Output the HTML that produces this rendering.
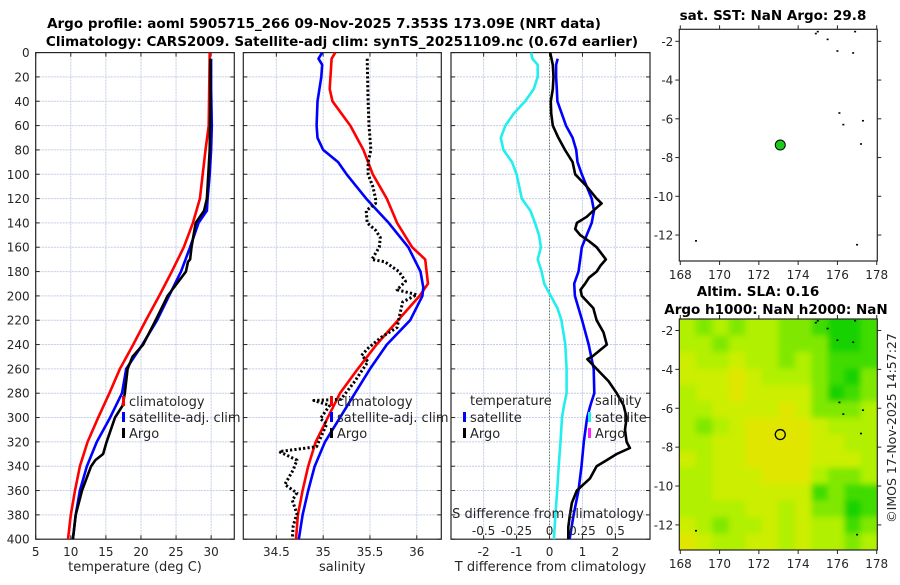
<!DOCTYPE html>
<html><head><meta charset="utf-8"><style>
html,body{margin:0;padding:0;background:#fff;}
svg text{font-family:"DejaVu Sans","Liberation Sans",sans-serif;fill:#262626;}
.t{font-weight:bold;font-size:13.5px;fill:#000;}
.tk{font-size:12px;}
</style></head><body>
<svg id="fig" width="900" height="580" viewBox="0 0 900 580" xmlns="http://www.w3.org/2000/svg">
<rect width="900" height="580" fill="#fff"/>
<text class="t" x="324" y="28" text-anchor="middle">Argo profile: aoml 5905715_266 09-Nov-2025 7.353S 173.09E (NRT data)</text>
<text class="t" x="342" y="46" text-anchor="middle">Climatology: CARS2009. Satellite-adj clim: synTS_20251109.nc (0.67d earlier)</text>
<g id="p1"></g>
<g id="p2"></g>
<g id="p3"></g>
<g id="m1"></g>
<g id="m2"></g>
<text class="t" x="773" y="20" text-anchor="middle">sat. SST: NaN Argo: 29.8</text>
<text class="t" x="758" y="296" text-anchor="middle">Altim. SLA: 0.16</text>
<text class="t" x="776" y="314" text-anchor="middle">Argo h1000: NaN h2000: NaN</text>
<text x="0" y="0" font-size="12.5" text-anchor="middle" transform="translate(896,428) rotate(-90)">©IMOS 17-Nov-2025 14:57:27</text>
</svg>
<script>
// ---- temperature profile data ----
const tClimDepth=[0,60,80,100,120,140,160,180,200,220,240,260,280,300,320,340,360,380,400];
const tClim=[29.8,29.65,29.2,28.8,28.4,27.4,26.1,24.4,22.6,20.7,18.9,17.0,15.5,13.9,12.4,11.3,10.6,10.0,9.6];
const tSatDepth=[5,30,60,80,100,120,130,140,160,180,200,220,240,260,280,300,320,340,360,380,400];
const tSat=[30.0,30.0,30.1,30.0,29.8,29.5,29.4,28.2,27.0,25.7,24.0,22.3,20.2,17.9,17.3,15.6,13.7,12.3,11.3,10.7,10.3];
const tArgoDepth=[5,40,80,100,120,130,140,160,170,172,180,200,220,240,250,260,280,290,300,320,330,335,340,360,380,400];
const tArgo=[29.9,29.9,29.8,29.6,29.4,29.0,27.8,27.2,27.0,26.7,26.4,23.8,22.1,20.3,18.8,18.1,17.7,17.4,16.3,15.1,14.6,13.5,12.9,11.6,10.7,10.3];
// ---- salinity profile data ----
const sClimDepth=[0,5,30,40,60,80,100,120,140,160,170,190,200,220,240,260,280,300,320,340,360,380,400];
const sClim=[35.13,35.09,35.07,35.1,35.29,35.43,35.53,35.68,35.79,35.95,36.09,36.12,36.03,35.8,35.57,35.37,35.18,35.05,34.92,34.84,34.78,34.73,34.71];
const sSatDepth=[0,5,10,20,40,60,70,80,90,100,120,140,160,180,193,200,220,240,260,280,300,320,340,360,380,400];
const sSat=[34.99,34.95,34.99,34.98,34.94,34.93,34.94,35.0,35.16,35.25,35.46,35.7,35.91,36.04,36.07,36.06,35.93,35.68,35.5,35.34,35.18,35.02,34.91,34.84,34.78,34.74];
const sArgoDepth=[5,40,60,80,90,100,110,120,124,130,140,146,152,160,170,172,180,188,195,199,205,215,226,234,243,249,254,264,270,285,286,290,301,305,324,328,335,343,355,362,368,379,389,400];
const sArgo=[35.47,35.48,35.49,35.51,35.48,35.48,35.53,35.56,35.56,35.46,35.47,35.56,35.61,35.6,35.52,35.66,35.81,35.88,35.79,36.0,35.85,35.82,35.79,35.62,35.48,35.41,35.48,35.39,35.34,35.19,34.9,35.07,34.97,35.04,34.93,34.53,34.72,34.68,34.59,34.72,34.67,34.72,34.68,34.67];
// ---- difference data ----
const dTSatDepth=[5,10,20,30,40,50,60,70,80,90,100,110,120,130,140,150,160,170,180,190,200,220,240,260,280,290,300,320,340,360,380,400];
const dTSat=[0.25,0.2,0.2,0.22,0.24,0.37,0.5,0.7,0.81,0.85,0.98,1.13,1.28,1.35,1.28,1.13,0.98,0.93,0.88,0.75,0.77,0.99,1.19,1.34,1.36,1.24,1.14,1.04,0.97,0.88,0.73,0.61];
const dTArgoDepth=[0,10,20,30,40,50,60,70,80,90,100,110,120,124,130,135,140,145,150,155,160,170,175,180,185,190,195,200,210,220,230,240,250,252,260,270,280,290,300,310,320,325,330,335,340,350,360,370,380,390,400];
const dTArgo=[0.02,0.1,0.12,0.1,0.04,0.05,0.1,0.27,0.47,0.7,0.78,1.13,1.43,1.58,1.33,1.13,0.83,0.78,0.93,1.2,1.43,1.71,1.55,1.43,1.2,1.08,0.94,0.98,1.33,1.43,1.64,1.74,1.29,1.15,1.43,1.79,2.04,2.25,2.34,2.29,2.34,2.44,2.04,1.74,1.43,1.23,0.83,0.68,0.62,0.57,0.57];
const dSSatDepth=[0,5,10,20,30,40,50,60,70,80,90,100,110,120,130,140,150,160,170,180,190,200,210,220,240,260,280,290,300,320,340,360,380,400];
const dSSat=[-0.14,-0.13,-0.09,-0.09,-0.12,-0.185,-0.27,-0.335,-0.37,-0.35,-0.285,-0.25,-0.23,-0.21,-0.145,-0.11,-0.08,-0.065,-0.09,-0.06,-0.04,0.01,0.06,0.09,0.12,0.13,0.13,0.11,0.095,0.083,0.07,0.058,0.045,0.033];
// ---- tick labels ----
const depthTicks=[0,20,40,60,80,100,120,140,160,180,200,220,240,260,280,300,320,340,360,380,400];
const tTicks=[5,10,15,20,25,30];
const sTicks=[34.5,35,35.5,36];
const dTTicks=[-2,-1,0,1,2];
const dSTicks=[-0.5,-0.25,0,0.25,0.5];
const lonTicks=[168,170,172,174,176,178];
const latTicks=[-2,-4,-6,-8,-10,-12];
const argoLon=173.09, argoLat=-7.353;
// SLA grid (index 0=yellow ... 5=green), rows north->south
const slaGrid=[
[2,3,2,3,2,2,3,3,4,5,5,4],
[2,2,3,2,2,2,3,3,3,5,5,4],
[1,2,2,1,2,2,3,2,3,4,4,4],
[1,1,1,0,1,2,2,2,3,4,5,3],
[2,1,1,0,1,1,1,1,3,5,4,3],
[2,2,1,1,1,1,0,1,3,3,3,2],
[2,3,2,1,0,0,0,0,1,2,2,2],
[2,2,1,1,0,0,0,0,1,1,2,2],
[1,2,1,1,0,0,0,0,1,1,1,2],
[2,2,1,1,1,0,0,0,2,3,3,2],
[2,2,1,1,1,1,1,1,4,3,4,4],
[2,2,2,2,1,1,2,1,3,3,5,4],
[1,2,3,2,2,1,2,1,2,2,4,3],
[0,1,2,2,1,1,2,1,2,2,3,2]];
const slaColors=['#e0e600','#ccee00','#b0f000','#80e800','#40dc00','#14d200'];
const coastLon=[175.0,175.5,176.0,176.8,176.1,176.3,177.3,177.2,168.8,177.0,174.9,176.9];
const coastLat=[-1.5,-1.9,-2.5,-2.6,-5.7,-6.3,-6.1,-7.3,-12.3,-12.5,-1.6,-1.5];

const NS='http://www.w3.org/2000/svg';
function mk(parent,tag,attrs){const e=document.createElementNS(NS,tag);for(const k in attrs)e.setAttribute(k,attrs[k]);parent.appendChild(e);return e;}
const Y0=52.6,Y1=539.2;
const yD=d=>Y0+(d/400)*(Y1-Y0);

function panel(g,x0,x1,xmin,xmax,xt,xtFmt,yLabels,xLabel){
  const sx=v=>x0+(v-xmin)/(xmax-xmin)*(x1-x0);
  for(const d of depthTicks){ if(d===0||d===400)continue;
    const l=mk(g,'line',{x1:x0,x2:x1,y1:yD(d),y2:yD(d),stroke:'#c4cce6','stroke-width':1,'stroke-dasharray':'2 1'});
     }
  for(const v of xt){ const x=sx(v);
    const l=mk(g,'line',{x1:x,x2:x,y1:Y0,y2:Y1,stroke:'#c4cce6','stroke-width':1,'stroke-dasharray':'2 1'});
     
    mk(g,'line',{x1:x,x2:x,y1:Y1,y2:Y1-4,stroke:'#262626'}); mk(g,'line',{x1:x,x2:x,y1:Y0,y2:Y0+4,stroke:'#262626'});
    const t=mk(g,'text',{x:x,y:Y1+17,'text-anchor':'middle',class:'tk'}); t.textContent=xtFmt(v);
     }
  for(const d of depthTicks){ mk(g,'line',{x1:x0,x2:x0+4,y1:yD(d),y2:yD(d),stroke:'#262626'}); mk(g,'line',{x1:x1,x2:x1-4,y1:yD(d),y2:yD(d),stroke:'#262626'});
    if(yLabels){const t=mk(g,'text',{x:x0-6,y:yD(d)+4.5,'text-anchor':'end',class:'tk'});t.textContent=d;
       }}
  const f=mk(g,'rect',{x:x0,y:Y0,width:x1-x0,height:Y1-Y0,fill:'none',stroke:'#262626','stroke-width':1.2});
   
  const xl=mk(g,'text',{x:(x0+x1)/2,y:571,'text-anchor':'middle','font-size':'13'}); xl.textContent=xLabel;
   
  return sx;
}
function line(g,sx,depths,vals,color,name,dash,w){
  const pts=depths.map((d,i)=>sx(vals[i]).toFixed(1)+','+yD(d).toFixed(1)).join(' ');
  const p=mk(g,'polyline',{points:pts,fill:'none',stroke:color,'stroke-width':w||2.6,'stroke-linejoin':'round'});
  if(dash)p.setAttribute('stroke-dasharray',dash);
   
}
function legend(g,x,y,color,label,name){
  mk(g,'rect',{x:x,y:y-9,width:3,height:10,fill:color});
  const t=mk(g,'text',{x:x+7,y:y+1,'font-size':'13'}); t.textContent=label;
   
}
// Panel 1
const g1=document.getElementById('p1');
const sx1=panel(g1,35.7,234.3,5,33.3,tTicks,v=>v,true,'temperature (deg C)');
line(g1,sx1,tClimDepth,tClim,'#ff0000','climatology-temp-line');
line(g1,sx1,tSatDepth,tSat,'#0000ff','satellite-temp-line');
line(g1,sx1,tArgoDepth,tArgo,'#000000','argo-temp-line');
legend(g1,122,405,'#ff0000','climatology','legend-climatology');
legend(g1,122,421,'#0000ff','satellite-adj. clim','legend-satellite');
legend(g1,122,437,'#000','Argo','legend-argo');
// Panel 2
const g2=document.getElementById('p2');
const sx2=panel(g2,243.3,441.3,34.147,36.262,sTicks,v=>v,false,'salinity');
line(g2,sx2,sClimDepth,sClim,'#ff0000','climatology-salinity-line');
line(g2,sx2,sSatDepth,sSat,'#0000ff','satellite-salinity-line');
line(g2,sx2,sArgoDepth,sArgo,'#000000','argo-salinity-line','2.2 2.2',3);
legend(g2,330,405,'#ff0000','climatology','legend-climatology');
legend(g2,330,421,'#0000ff','satellite-adj. clim','legend-satellite');
legend(g2,330,437,'#000','Argo','legend-argo');
// Panel 3
const g3=document.getElementById('p3');
const sx3=panel(g3,451,650,-2.99,3.05,dTTicks,v=>v,false,'T difference from climatology');
const zx=sx3(0);
const z=mk(g3,'line',{x1:zx,x2:zx,y1:Y0,y2:Y1,stroke:'#3a4a20','stroke-width':1,'stroke-dasharray':'1 2'});
 
const sxS=v=>sx3(v*4);
line(g3,sxS,dSSatDepth,dSSat,'#22eeee','satellite-salinity-diff-line');
line(g3,sx3,dTSatDepth,dTSat,'#0000ff','satellite-temp-diff-line');
line(g3,sx3,dTArgoDepth,dTArgo,'#000000','argo-temp-diff-line');
{const t=mk(g3,'text',{x:470,y:405,'font-size':'13'});t.textContent='temperature';}
legend(g3,463,421,'#0000ff','satellite','legend-temp-satellite');
legend(g3,463,437,'#000','Argo','legend-temp-argo');
{const t=mk(g3,'text',{x:595,y:405,'font-size':'13'});t.textContent='salinity';}
legend(g3,588,421,'#22eeee','satellite','legend-salinity-satellite');
legend(g3,588,437,'#ff22ff','Argo','legend-salinity-argo');
{const t=mk(g3,'text',{x:548,y:518,'text-anchor':'middle','font-size':'13'});t.textContent='S difference from climatology';}
for(const v of dSTicks){const t=mk(g3,'text',{x:sxS(v),y:535,'text-anchor':'middle',class:'tk'});t.textContent=v;
  }

// Maps
function mapAxes(g,y0,y1,latTop,latBot,drawInside){
  const X0=679.3,X1=877.3,LON0=167.95,LON1=178.03;
  const mx=v=>X0+(v-LON0)/(LON1-LON0)*(X1-X0);
  const my=v=>y0+(latTop-v)/(latTop-latBot)*(y1-y0);
  drawInside(mx,my,X0,X1);
  for(const v of lonTicks){const x=mx(v);mk(g,'line',{x1:x,x2:x,y1:y1,y2:y1+4,stroke:'#262626'});mk(g,'line',{x1:x,x2:x,y1:y0,y2:y0-4,stroke:'#262626'});
    const t=mk(g,'text',{x:x,y:y1+18,'text-anchor':'middle',class:'tk'});t.textContent=v;}
  for(const v of latTicks){const y=my(v);mk(g,'line',{x1:X0,x2:X0-4,y1:y,y2:y,stroke:'#262626'});mk(g,'line',{x1:X1,x2:X1+4,y1:y,y2:y,stroke:'#262626'});
    const t=mk(g,'text',{x:X0-6,y:y+4.5,'text-anchor':'end',class:'tk'});t.textContent=v;}
  for(let i=0;i<coastLon.length;i++){const c=mk(g,'rect',{x:mx(coastLon[i])-1,y:my(coastLat[i])-0.8,width:2,height:1.6,fill:'#000'});}
  const f=mk(g,'rect',{x:X0,y:y0,width:X1-X0,height:y1-y0,fill:'none',stroke:'#262626','stroke-width':1.2});
  
  return [mx,my];
}
const m1=document.getElementById('m1');
mapAxes(m1,29.3,261,-1.38,-13.34,(mx,my)=>{
  const c=mk(m1,'circle',{cx:mx(argoLon),cy:my(argoLat),r:5,fill:'#1ccc1c',stroke:'#000','stroke-width':1});
  
});
const m2=document.getElementById('m2');
const defs=mk(document.getElementById('fig'),'defs',{});
const flt=mk(defs,'filter',{id:'bl',x:'-5%',y:'-5%',width:'110%',height:'110%'});
mk(flt,'feGaussianBlur',{stdDeviation:'3'});
const cp=mk(defs,'clipPath',{id:'cp2'});mk(cp,'rect',{x:679.3,y:319,width:198,height:231});
mapAxes(m2,319,550,-1.41,-13.29,(mx,my,X0,X1)=>{
  const gg=mk(m2,'g',{'clip-path':'url(#cp2)'});
  mk(gg,'rect',{x:X0,y:319,width:X1-X0,height:231,fill:'#b8ee00'});
  const hg=mk(gg,'g',{filter:'url(#bl)'});
  const nr=slaGrid.length,nc=slaGrid[0].length,cw=(X1-X0)/nc,ch=231/nr;
  for(let r=0;r<nr;r++)for(let c=0;c<nc;c++){
    const e=mk(hg,'rect',{x:X0+c*cw-(c===0?8:0),y:319+r*ch-(r===0?8:0),width:cw+0.5+(c===0||c===nc-1?8:0),height:ch+0.5+(r===0||r===nr-1?8:0),fill:slaColors[slaGrid[r][c]]});
    
    
  }
  const c=mk(m2,'circle',{cx:mx(argoLon),cy:my(argoLat),r:5,fill:'none',stroke:'#000','stroke-width':1.3});
  
});
</script>
</body></html>
